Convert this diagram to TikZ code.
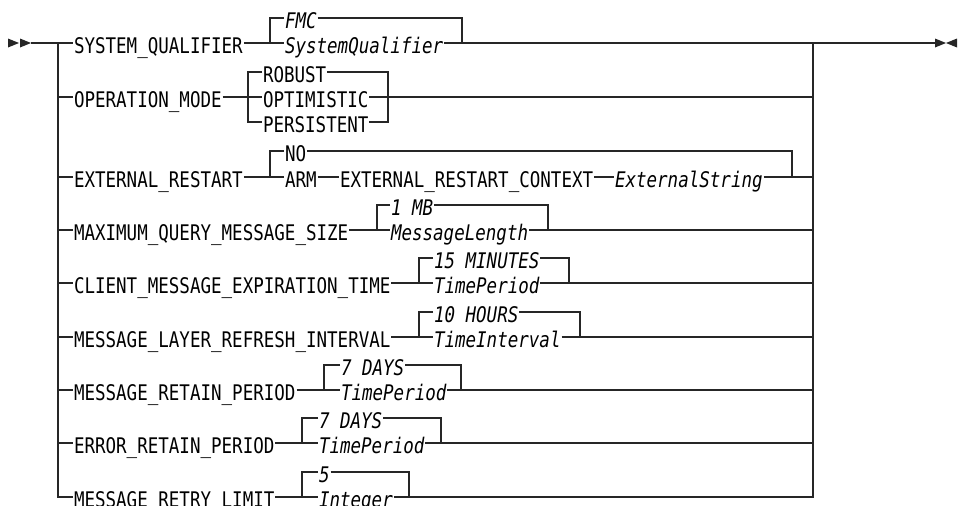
\documentclass[tikz,border=0pt]{standalone}
\usepackage{fontspec}
\newfontfamily\railfont[FakeStretch=0.815]{DejaVu Sans Mono}
\usetikzlibrary{positioning,calc}

\begin{document}
\begin{tikzpicture}[
  x=1pt, y=-1pt,
  kw/.style   = {anchor=west, inner xsep=0.8pt, inner ysep=0pt,
                 text height=20pt, text depth=0pt,
                 font=\railfont\fontsize{21.5}{24}\selectfont},
  var/.style  = {kw, font=\railfont\itshape\fontsize{21.5}{24}\selectfont},
  rail/.style = {line width=1.1pt, draw=black!85},
  tip/.style  = {fill=black!85},
]
\useasboundingbox (0,0) rectangle (962,506);

% entry, exit and the two rails
\coordinate (start) at (8,43);
\coordinate (inL)   at (58,43);
\coordinate (outR)  at (813,43);
\coordinate (stop)  at (957,43);
\fill[tip] (start) -- ++(0,-4.5) -- ++(11,4.5) -- ++(-11,4.5) -- cycle;
\fill[tip] ($(start)+(12,0)$) -- ++(0,-4.5) -- ++(11,4.5) -- ++(-11,4.5) -- cycle;
\fill[tip] (stop) -- ++(0,-4.5) -- ++(-11,4.5) -- ++(11,4.5) -- cycle;
\fill[tip] ($(stop)+(-22,0)$) -- ++(0,-4.5) -- ++(11,4.5) -- ++(-11,4.5) -- cycle;
\draw[rail] ($(start)+(23,0)$) -- (inL);
\draw[rail] (outR) -- ($(stop)+(-22,0)$);

% SYSTEM_QUALIFIER
\node[kw]  (sq)   at (73,43)  {SYSTEM\_QUALIFIER};
\node[var] (fmc)  at (284,18) {FMC};
\node[var] (sqv)  at (284,43) {SystemQualifier};
\coordinate (sqL) at (270,43);
\coordinate (sqR) at (462,43);
\draw[rail] (inL) -- (sq.west);
\draw[rail] (sq.east) -- (sqv.west);
\draw[rail] (sqv.east) -- (outR);
\draw[rail] (fmc.west) -| (sqL);
\draw[rail] (fmc.east) -| (sqR);

% OPERATION_MODE
\node[kw] (om)  at (73,97)   {OPERATION\_MODE};
\node[kw] (rob) at (262,72)  {ROBUST};
\node[kw] (opt) at (262,97)  {OPTIMISTIC};
\node[kw] (per) at (262,122) {PERSISTENT};
\coordinate (omL) at (248,97);
\coordinate (omR) at (388,97);
\draw[rail] (om.east) -- (opt.west);
\draw[rail] (opt.east) -- (outR |- opt);
\draw[rail] (rob.west) -| (omL) |- (per.west);
\draw[rail] (rob.east) -| (omR) |- (per.east);

% EXTERNAL_RESTART
\node[kw]  (er)  at (73,177)  {EXTERNAL\_RESTART};
\node[kw]  (no)  at (284,151) {NO};
\node[kw]  (arm) at (284,177) {ARM};
\node[kw]  (erc) at (339,177) {EXTERNAL\_RESTART\_CONTEXT};
\node[var] (es)  at (614,177) {ExternalString};
\coordinate (erL) at (270,177);
\coordinate (erR) at (792,177);
\draw[rail] (er.east) -- (arm.west);
\draw[rail] (arm.east) -- (erc.west);
\draw[rail] (erc.east) -- (es.west);
\draw[rail] (es.east) -- (outR |- es);
\draw[rail] (no.west) -| (erL);
\draw[rail] (no.east) -| (erR);

% MAXIMUM_QUERY_MESSAGE_SIZE
\node[kw]  (mq)  at (73,230)  {MAXIMUM\_QUERY\_MESSAGE\_SIZE};
\node[var] (mb)  at (390,205) {1 MB};
\node[var] (mlen) at (390,230) {MessageLength};
\coordinate (mqL) at (377,230);
\coordinate (mqR) at (548,230);
\draw[rail] (mq.east) -- (mlen.west);
\draw[rail] (mlen.east) -- (outR |- mlen);
\draw[rail] (mb.west) -| (mqL);
\draw[rail] (mb.east) -| (mqR);

% CLIENT_MESSAGE_EXPIRATION_TIME
\node[kw]  (cm)  at (73,283)  {CLIENT\_MESSAGE\_EXPIRATION\_TIME};
\node[var] (min) at (433,258) {15 MINUTES};
\node[var] (cmp) at (433,283) {TimePeriod};
\coordinate (cmL) at (419,283);
\coordinate (cmR) at (569,283);
\draw[rail] (cm.east) -- (cmp.west);
\draw[rail] (cmp.east) -- (outR |- cmp);
\draw[rail] (min.west) -| (cmL);
\draw[rail] (min.east) -| (cmR);

% MESSAGE_LAYER_REFRESH_INTERVAL
\node[kw]  (ml)  at (73,337)  {MESSAGE\_LAYER\_REFRESH\_INTERVAL};
\node[var] (hrs) at (433,312) {10 HOURS};
\node[var] (mli) at (433,337) {TimeInterval};
\coordinate (mlL) at (419,337);
\coordinate (mlR) at (580,337);
\draw[rail] (ml.east) -- (mli.west);
\draw[rail] (mli.east) -- (outR |- mli);
\draw[rail] (hrs.west) -| (mlL);
\draw[rail] (hrs.east) -| (mlR);

% MESSAGE_RETAIN_PERIOD
\node[kw]  (mr)  at (73,390)  {MESSAGE\_RETAIN\_PERIOD};
\node[var] (mrd) at (340,365) {7 DAYS};
\node[var] (mrp) at (340,390) {TimePeriod};
\coordinate (mrL) at (324,390);
\coordinate (mrR) at (461,390);
\draw[rail] (mr.east) -- (mrp.west);
\draw[rail] (mrp.east) -- (outR |- mrp);
\draw[rail] (mrd.west) -| (mrL);
\draw[rail] (mrd.east) -| (mrR);

% ERROR_RETAIN_PERIOD
\node[kw]  (ep)  at (73,443)  {ERROR\_RETAIN\_PERIOD};
\node[var] (epd) at (318,418) {7 DAYS};
\node[var] (epp) at (318,443) {TimePeriod};
\coordinate (epL) at (302,443);
\coordinate (epR) at (441,443);
\draw[rail] (ep.east) -- (epp.west);
\draw[rail] (epp.east) -- (outR |- epp);
\draw[rail] (epd.west) -| (epL);
\draw[rail] (epd.east) -| (epR);

% MESSAGE_RETRY_LIMIT
\node[kw]  (rl)  at (73,497)  {MESSAGE\_RETRY\_LIMIT};
\node[var] (five) at (318,472) {5};
\node[var] (rli) at (318,497) {Integer};
\coordinate (rlL) at (302,497);
\coordinate (rlR) at (409,497);
\draw[rail] (rl.east) -- (rli.west);
\draw[rail] (five.west) -| (rlL);
\draw[rail] (five.east) -| (rlR);

% rails, closed at the last row
\draw[rail] (inL) |- (rl.west);
\draw[rail] (inL |- om)  -- (om.west);
\draw[rail] (inL |- er)  -- (er.west);
\draw[rail] (inL |- mq)  -- (mq.west);
\draw[rail] (inL |- cm)  -- (cm.west);
\draw[rail] (inL |- ml)  -- (ml.west);
\draw[rail] (inL |- mr)  -- (mr.west);
\draw[rail] (inL |- ep)  -- (ep.west);
\draw[rail] (rli.east) -| (outR);
\end{tikzpicture}
\end{document}
